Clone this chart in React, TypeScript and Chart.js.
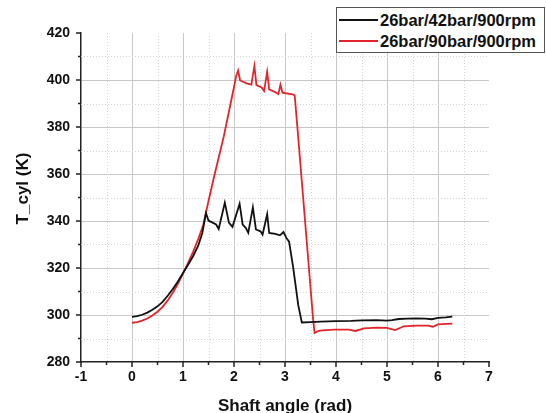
import React, { useEffect, useRef } from "react";
import { Chart, registerables } from "chart.js";

Chart.register(...registerables);

const FONT = '"Liberation Sans", Arial, Helvetica, sans-serif';

const seriesLabels = ["26bar/42bar/900rpm", "26bar/90bar/900rpm"];
const seriesColors = ["#111111", "#e3242b"];

const xTitle = "Shaft angle (rad)";
const yTitle = "T_cyl (K)";

const xMin = -1;
const xMax = 7;
const xStep = 0.5;
const yMin = 280;
const yMax = 420;
const yStep = 10;
const yLabelEvery = 20;

const angle42 = [
  0.0, 0.1, 0.2, 0.3, 0.4, 0.5, 0.6, 0.7, 0.8, 0.9, 1.0, 1.1, 1.2, 1.3, 1.38, 1.45,
  1.5, 1.58, 1.65, 1.7, 1.82, 1.9, 1.97, 2.11, 2.17, 2.23, 2.28, 2.37, 2.43, 2.52,
  2.56, 2.65, 2.69, 2.81, 2.9, 2.97, 3.03, 3.08, 3.16, 3.26, 3.33, 3.5, 3.7, 4.0,
  4.3, 4.5, 4.8, 5.0, 5.1, 5.23, 5.4, 5.57, 5.75, 5.88, 6.0, 6.15, 6.28,
];
const temp42 = [
  299.2, 299.5, 300.1, 301.0, 302.2, 303.7, 305.6, 308.2, 311.1, 314.3, 317.9, 321.4,
  325.1, 329.6, 335.0, 343.4, 340.2, 339.3, 338.5, 336.6, 347.8, 339.3, 337.5, 347.3,
  338.5, 337.1, 335.0, 345.8, 336.4, 335.6, 334.2, 342.9, 334.9, 334.5, 333.9, 335.3,
  332.7, 331.2, 320.3, 304.2, 296.8, 297.0, 297.2, 297.4, 297.5, 297.7, 297.8, 297.6,
  297.8, 298.3, 298.5, 298.6, 298.5, 298.2, 298.8, 299.0, 299.3,
];

const angle90 = [
  0.0, 0.1, 0.2, 0.3, 0.4, 0.5, 0.6, 0.7, 0.8, 0.9, 1.0, 1.1, 1.2, 1.3, 1.4, 1.5, 1.6,
  1.7, 1.8, 1.9, 2.0, 2.04, 2.08, 2.12, 2.25, 2.34, 2.4, 2.44, 2.54, 2.59, 2.65, 2.69,
  2.83, 2.87, 2.91, 2.95, 3.15, 3.19, 3.25, 3.35, 3.45, 3.55, 3.58, 3.66, 3.73, 3.97,
  4.25, 4.38, 4.55, 4.79, 5.0, 5.16, 5.33, 5.6, 5.8, 5.9, 6.0, 6.28,
];
const temp90 = [
  296.7, 297.0, 297.6, 298.5, 299.8, 301.4, 303.5, 306.2, 309.5, 313.3, 317.6, 322.2,
  327.0, 332.4, 338.5, 348.5, 358.0, 367.0, 376.0, 386.5, 397.0, 401.5, 404.0, 399.8,
  398.6, 398.0, 406.0, 397.8, 396.8, 395.3, 403.5, 396.0, 394.6, 394.0, 398.0, 394.6,
  393.9, 393.5, 378.0, 351.5, 325.0, 298.5, 292.4, 293.2, 293.5, 293.8, 293.8, 293.2,
  294.3, 294.6, 294.5, 293.6, 295.2, 295.5, 295.5, 295.0, 296.0, 296.3,
];

const seriesAngles = [angle42, angle90];
const seriesTemps = [temp42, temp90];

const MAJOR_GRID = "#c8c8c8";
const MINOR_GRID = "#d4d4d4";
const AXIS = "#222222";
const CLEAR = "rgba(0,0,0,0)";

const isInt = (v: number) => Math.abs(v - Math.round(v)) < 1e-9;
const isMajorY = (v: number) => Math.abs(v % yLabelEvery) < 1e-9;

const minorGrid = {
  id: "minorGrid",
  beforeDatasetsDraw(chart: any) {
    const { ctx, chartArea, scales } = chart;
    const xs = scales.x;
    const ys = scales.y;
    ctx.save();
    ctx.strokeStyle = MINOR_GRID;
    ctx.lineWidth = 1;
    ctx.setLineDash([1, 2]);
    xs.ticks.forEach((t: any) => {
      if (isInt(t.value)) return;
      const px = Math.round(xs.getPixelForValue(t.value)) + 0.5;
      ctx.beginPath();
      ctx.moveTo(px, chartArea.top);
      ctx.lineTo(px, chartArea.bottom);
      ctx.stroke();
    });
    ys.ticks.forEach((t: any) => {
      if (isMajorY(t.value)) return;
      const py = Math.round(ys.getPixelForValue(t.value)) + 0.5;
      ctx.beginPath();
      ctx.moveTo(chartArea.left, py);
      ctx.lineTo(chartArea.right, py);
      ctx.stroke();
    });
    ctx.restore();
  },
};

const axisDecor = {
  id: "axisDecor",
  afterDraw(chart: any) {
    const { ctx, chartArea, scales } = chart;
    const xs = scales.x;
    const ys = scales.y;
    ctx.save();
    ctx.strokeStyle = AXIS;
    ctx.lineWidth = 1.5;
    xs.ticks.forEach((t: any) => {
      const px = xs.getPixelForValue(t.value);
      const len = isInt(t.value) ? 5 : 3;
      ctx.beginPath();
      ctx.moveTo(px, chartArea.bottom);
      ctx.lineTo(px, chartArea.bottom + len);
      ctx.stroke();
    });
    ys.ticks.forEach((t: any) => {
      const py = ys.getPixelForValue(t.value);
      const len = isMajorY(t.value) ? 5 : 3;
      ctx.beginPath();
      ctx.moveTo(chartArea.left - len, py);
      ctx.lineTo(chartArea.left, py);
      ctx.stroke();
    });
    ctx.fillStyle = "#111";
    ctx.font = `bold 17px ${FONT}`;
    ctx.textAlign = "center";
    ctx.textBaseline = "alphabetic";
    ctx.translate(27.5, (chartArea.top + chartArea.bottom) / 2 - 9);
    ctx.rotate(-Math.PI / 2);
    ctx.fillText(yTitle, 0, 0);
    ctx.restore();
  },
};

export default function App() {
  const canvasRef = useRef<HTMLCanvasElement | null>(null);

  useEffect(() => {
    if (!canvasRef.current) return;
    const datasets = seriesLabels.map((label, i) => ({
      label,
      data: seriesAngles[i].map((x, j) => ({ x, y: seriesTemps[i][j] })),
      borderColor: seriesColors[i],
      backgroundColor: seriesColors[i],
      borderWidth: 1.8,
      pointRadius: 0,
      tension: 0,
      fill: false,
    }));

    const chart = new Chart(canvasRef.current, {
      type: "line",
      data: { datasets },
      plugins: [minorGrid, axisDecor],
      options: {
        animation: false,
        responsive: false,
        devicePixelRatio: 1,
        layout: { padding: { left: 0, top: 33, right: 57, bottom: 0 } },
        plugins: {
          legend: { display: false },
          tooltip: { enabled: false },
        },
        scales: {
          x: {
            type: "linear",
            min: xMin,
            max: xMax,
            afterFit: (s: any) => {
              s.height = 51;
            },
            ticks: {
              stepSize: xStep,
              autoSkip: false,
              maxRotation: 0,
              padding: 7,
              color: "#111",
              font: { family: FONT, size: 14, weight: "bold" },
              callback: (v: any) => (isInt(Number(v)) ? String(Math.round(Number(v))) : ""),
            },
            grid: {
              drawTicks: false,
              lineWidth: 1,
              color: (c: any) => {
                const v = c.tick ? c.tick.value : xMin;
                if (v === xMin || v === xMax || !isInt(v)) return CLEAR;
                return MAJOR_GRID;
              },
            },
            border: { display: true, color: AXIS, width: 1.5 },
            title: {
              display: true,
              text: xTitle,
              color: "#111",
              font: { family: FONT, size: 17, weight: "bold", lineHeight: "14px" },
              padding: { top: 0, bottom: 0 },
            },
          },
          y: {
            type: "linear",
            min: yMin,
            max: yMax,
            afterFit: (s: any) => {
              s.width = 81;
            },
            ticks: {
              stepSize: yStep,
              autoSkip: false,
              padding: 11,
              color: "#111",
              font: { family: FONT, size: 14, weight: "bold" },
              callback: (v: any) => (isMajorY(Number(v)) ? String(v) : ""),
            },
            grid: {
              drawTicks: false,
              lineWidth: 1,
              color: (c: any) => {
                const v = c.tick ? c.tick.value : yMin;
                if (v === yMin || v === yMax || !isMajorY(v)) return CLEAR;
                return MAJOR_GRID;
              },
            },
            border: { display: true, color: AXIS, width: 1.5 },
            title: { display: false },
          },
        },
      } as any,
    });
    return () => chart.destroy();
  }, []);

  return (
    <div
      style={{
        position: "fixed",
        left: 0,
        top: 0,
        width: 546,
        height: 413,
        background: "#fff",
        overflow: "hidden",
      }}
    >
      <canvas ref={canvasRef} width={546} height={413} style={{ display: "block" }} />
      <div
        style={{
          position: "absolute",
          left: 336,
          top: 7,
          width: 209,
          height: 46,
          boxSizing: "border-box",
          border: "1px solid #555",
          background: "#fff",
          paddingTop: 1.5,
          fontFamily: FONT,
          fontWeight: "bold",
          fontSize: 16.5,
          color: "#111",
        }}
      >
        {seriesLabels.map((lab, i) => (
          <div key={lab} style={{ display: "flex", alignItems: "center", height: 21 }}>
            <span
              style={{
                display: "inline-block",
                width: 39,
                height: 2,
                marginLeft: 2,
                marginRight: 2,
                background: seriesColors[i],
              }}
            />
            <span style={{ whiteSpace: "nowrap", lineHeight: "21px" }}>{lab}</span>
          </div>
        ))}
      </div>
    </div>
  );
}
